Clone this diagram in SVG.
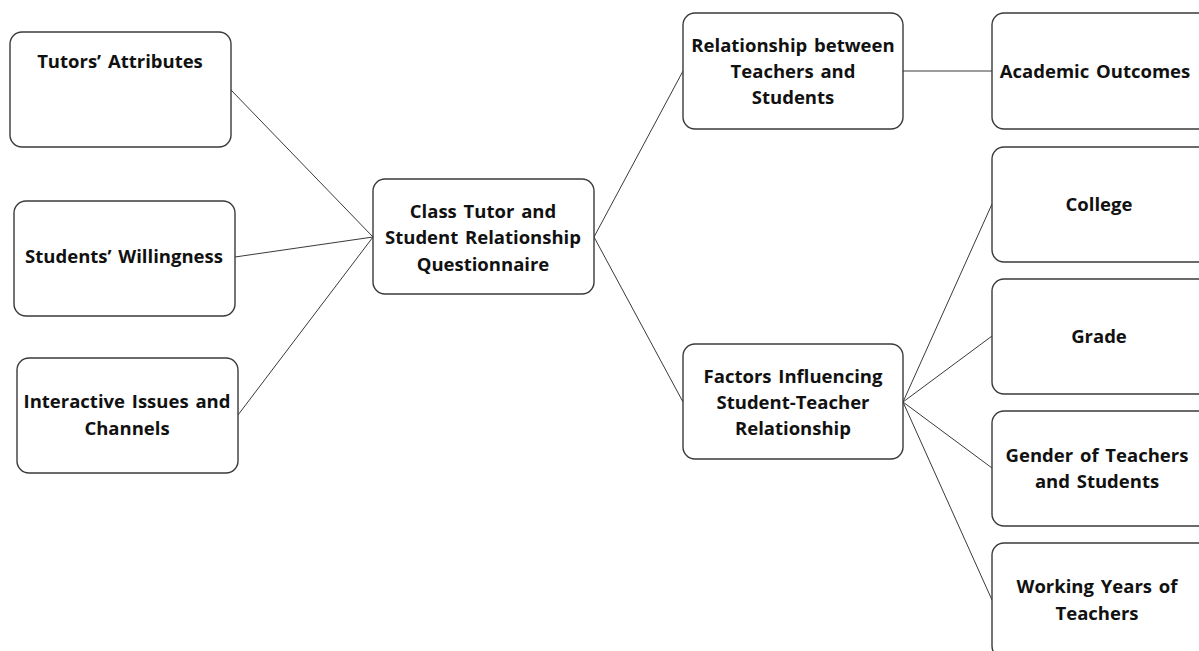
<svg xmlns="http://www.w3.org/2000/svg" width="1199" height="651" viewBox="0 0 1199 651">
<style>
.box{fill:#fff;stroke:#3a3a3a;stroke-width:1.4}
.t{font-family:"Open Sans",Lato,"Liberation Sans",sans-serif;font-weight:bold;font-size:18.5px;word-spacing:2px;fill:#111;text-anchor:middle;dominant-baseline:central}
.c{stroke:#3a3a3a;stroke-width:1;fill:none}
</style>
<rect width="1199" height="651" fill="#fff"/>
<g id="connectors">
<line class="c" x1="231" y1="90" x2="373" y2="237"/>
<line class="c" x1="235" y1="257" x2="373" y2="237"/>
<line class="c" x1="238" y1="415" x2="373" y2="237"/>
<line class="c" x1="594" y1="237" x2="683" y2="71"/>
<line class="c" x1="594" y1="237" x2="683" y2="402"/>
<line class="c" x1="903" y1="71" x2="992" y2="71"/>
<line class="c" x1="903" y1="402" x2="992" y2="204"/>
<line class="c" x1="903" y1="402" x2="992" y2="336"/>
<line class="c" x1="903" y1="402" x2="992" y2="468"/>
<line class="c" x1="903" y1="402" x2="992" y2="600"/>
</g>
<g id="tutors"><rect class="box" x="10" y="32" width="221" height="115" rx="12"/><text class="t" x="120" y="60">Tutors’ Attributes</text></g>
<g id="willingness"><rect class="box" x="14" y="201" width="221" height="115" rx="12"/><text class="t" x="124" y="255">Students’ Willingness</text></g>
<g id="interactive"><rect class="box" x="17" y="358" width="221" height="115" rx="12"/><text class="t" x="127" y="400">Interactive Issues and</text><text class="t" x="127" y="427">Channels</text></g>
<g id="questionnaire"><rect class="box" x="373" y="179" width="221" height="115" rx="12"/><text class="t" x="483" y="210">Class Tutor and</text><text class="t" x="483" y="236">Student Relationship</text><text class="t" x="483" y="263">Questionnaire</text></g>
<g id="relationship"><rect class="box" x="683" y="13" width="220" height="116" rx="12"/><text class="t" x="793" y="44">Relationship between</text><text class="t" x="793" y="70">Teachers and</text><text class="t" x="793" y="96">Students</text></g>
<g id="factors"><rect class="box" x="683" y="344" width="220" height="115" rx="12"/><text class="t" x="793" y="375">Factors Influencing</text><text class="t" x="793" y="401">Student-Teacher</text><text class="t" x="793" y="427">Relationship</text></g>
<g id="academic"><rect class="box" x="992" y="13" width="221" height="116" rx="12"/><text class="t" x="1095" y="70">Academic Outcomes</text></g>
<g id="college"><rect class="box" x="992" y="147" width="221" height="115" rx="12"/><text class="t" x="1099" y="203">College</text></g>
<g id="grade"><rect class="box" x="992" y="279" width="221" height="115" rx="12"/><text class="t" x="1099" y="335">Grade</text></g>
<g id="gender"><rect class="box" x="992" y="411" width="221" height="115" rx="12"/><text class="t" x="1097" y="454">Gender of Teachers</text><text class="t" x="1097" y="480">and Students</text></g>
<g id="working"><rect class="box" x="992" y="543" width="221" height="115" rx="12"/><text class="t" x="1097" y="585">Working Years of</text><text class="t" x="1097" y="612">Teachers</text></g>
</svg>
